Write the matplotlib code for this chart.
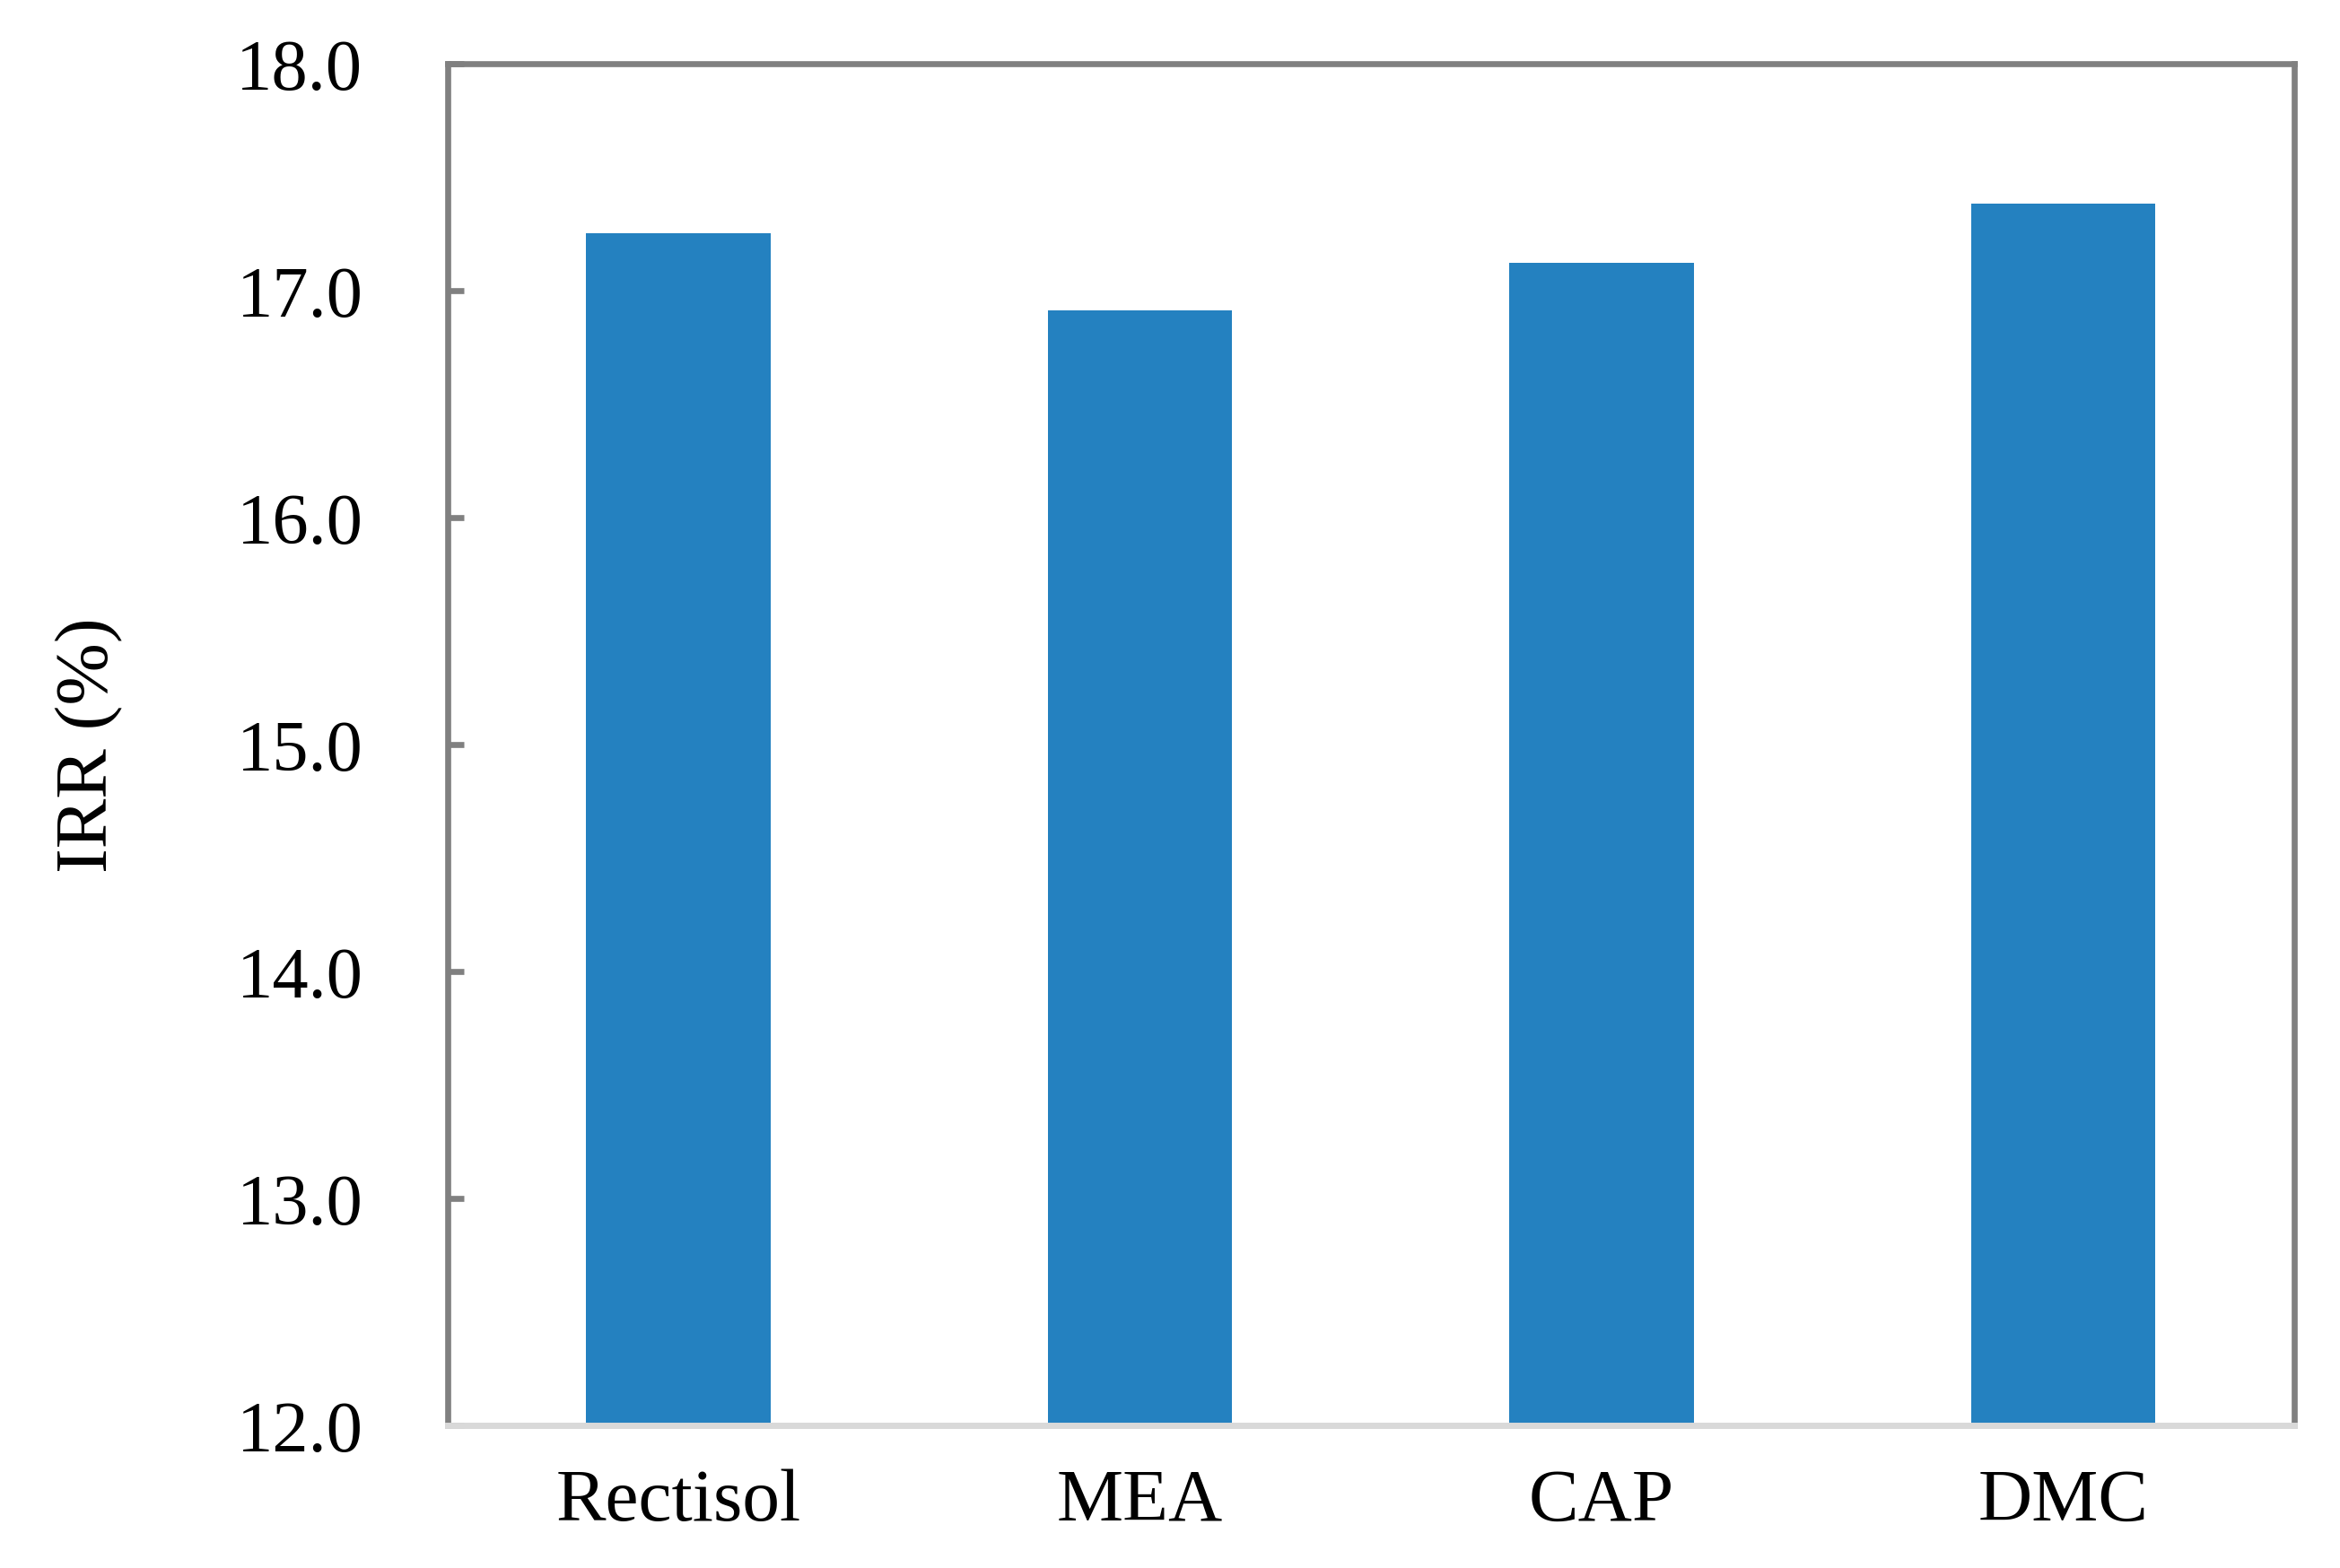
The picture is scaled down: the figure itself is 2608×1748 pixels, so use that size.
import matplotlib.pyplot as plt

# data
categories = ["Rectisol", "MEA", "CAP", "DMC"]
irr_values = [17.25, 16.91, 17.12, 17.38]
y_ticks = [12.0, 13.0, 14.0, 15.0, 16.0, 17.0, 18.0]

plt.rcParams["font.family"] = ["Liberation Serif", "DejaVu Serif"]

fig = plt.figure(figsize=(13.04, 8.745), dpi=200)
ax = fig.add_axes([0.1913, 0.0909, 0.789, 0.8682])

x = range(len(categories))
ax.bar(x, irr_values, width=0.4, color="#2481c0", zorder=2)

ax.set_xlim(-0.5, len(categories) - 0.5)
ax.set_ylim(12.0, 18.0)
ax.set_xticks(list(x))
ax.set_xticklabels(categories)
ax.set_yticks(y_ticks)
ax.set_yticklabels([f"{v:.1f}" for v in y_ticks])

for side in ["left", "top", "right"]:
    ax.spines[side].set_color("#808080")
    ax.spines[side].set_linewidth(2.4)
ax.spines["bottom"].set_color("#d9d9d9")
ax.spines["bottom"].set_linewidth(2.5)
ax.spines["bottom"].set_zorder(3)

ax.tick_params(axis="y", direction="in", length=6.5, width=2.4, color="#808080",
               labelsize=29, pad=34)
ax.tick_params(axis="x", length=0, labelsize=30, pad=17)

ax.set_ylabel("IRR (%)", fontsize=30)
ax.yaxis.set_label_coords(-0.1755, 0.5)

fig.savefig("out.png", dpi=200)
